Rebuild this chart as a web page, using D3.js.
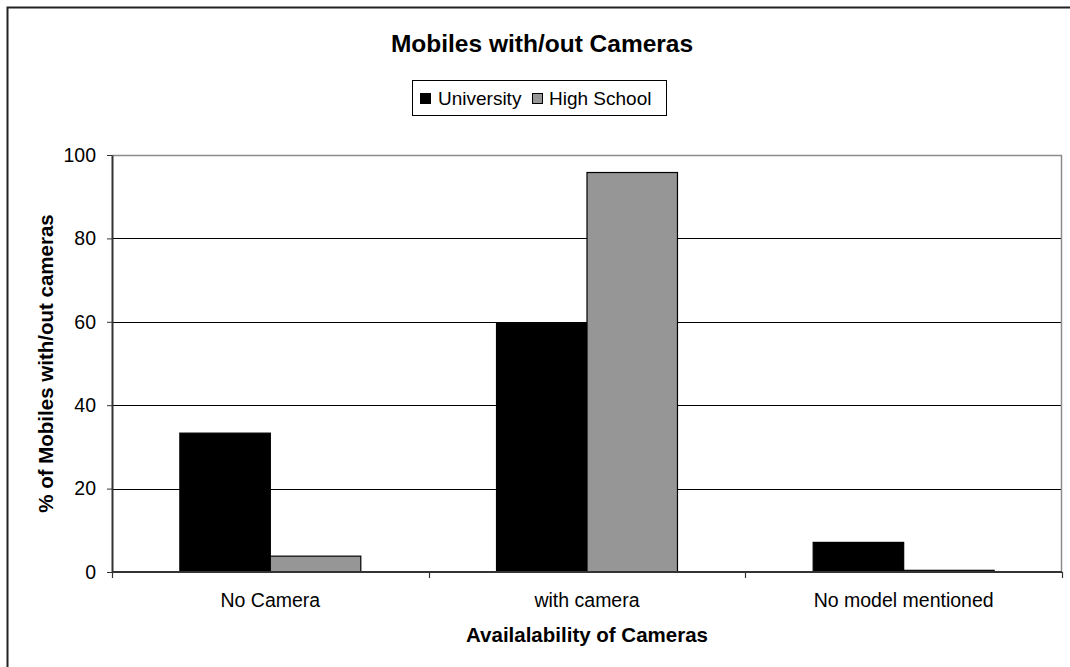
<!DOCTYPE html>
<html>
<head>
<meta charset="utf-8">
<script src="https://cdn.jsdelivr.net/npm/d3@7"></script>
<style>
  html, body { margin: 0; padding: 0; background: #fff; }
  svg { display: block; font-family: "Liberation Sans", Arial, sans-serif; }
</style>
</head>
<body>
<svg id="chart" width="1070" height="667"></svg>
<script>
// Share of phones with and without a camera, by respondent group (%)
const categories = ["No Camera", "with camera", "No model mentioned"];
const seriesNames = ["University", "High School"];
const university = [33.3, 59.7, 7.1];
const highSchool = [3.8, 95.8, 0.4];
const yTicks = [0, 20, 40, 60, 80, 100];
const seriesColors = ["#000000", "#969696"];

const seriesValues = [university, highSchool];
const rows = categories.map((c, i) => ({
  category: c,
  values: seriesNames.map((s, j) => ({ series: s, value: seriesValues[j][i], color: seriesColors[j] }))
}));

const svg = d3.select("#chart");
const plot = { left: 112, right: 1062, top: 155, bottom: 572 };

// Outer chart frame (runs off the right and bottom edges)
svg.append("rect")
  .attr("x", 7.5).attr("y", 7.5)
  .attr("width", 1100).attr("height", 700)
  .attr("fill", "none").attr("stroke", "#222").attr("stroke-width", 2);

const x0 = d3.scaleBand().domain(categories).range([plot.left, plot.right]).paddingInner(0).paddingOuter(0);
const x1 = d3.scaleBand().domain(seriesNames).range([0, x0.bandwidth()]).paddingInner(0).paddingOuter(0.75);
const y = d3.scaleLinear().domain([0, 100]).range([plot.bottom, plot.top]);

// Gridlines
svg.append("g")
  .selectAll("line")
  .data(yTicks.filter(t => t > 0 && t < 100))
  .join("line")
  .attr("x1", plot.left).attr("x2", plot.right)
  .attr("y1", d => Math.round(y(d)) + 0.5).attr("y2", d => Math.round(y(d)) + 0.5)
  .attr("stroke", "#000").attr("stroke-width", 1);

// Plot area border (top and right)
svg.append("path")
  .attr("d", `M${plot.left},${plot.top + 0.5}H${plot.right - 0.5}V${plot.bottom}`)
  .attr("fill", "none").attr("stroke", "#8c8c8c").attr("stroke-width", 1.5);

// Bars
const groups = svg.append("g").selectAll("g")
  .data(rows).join("g")
  .attr("transform", d => `translate(${x0(d.category)},0)`);

groups.selectAll("rect")
  .data(d => d.values).join("rect")
  .attr("x", d => x1(d.series))
  .attr("y", d => y(d.value))
  .attr("width", x1.bandwidth())
  .attr("height", d => y(0) - y(d.value))
  .attr("fill", d => d.color)
  .attr("stroke", "#000").attr("stroke-width", 1.2);

// Y axis
const yAxis = svg.append("g")
  .attr("transform", `translate(${plot.left},0)`)
  .call(d3.axisLeft(y).tickValues(yTicks).tickSize(5).tickPadding(11).tickSizeOuter(0));
yAxis.select(".domain").attr("stroke", "#333").attr("stroke-width", 2);
yAxis.selectAll(".tick line").attr("stroke", "#333");
yAxis.selectAll(".tick text")
  .attr("font-size", 19.5).attr("fill", "#000")
  .attr("font-family", "Liberation Sans, Arial, sans-serif");

// X axis baseline and category boundary ticks
svg.append("line")
  .attr("x1", plot.left).attr("x2", plot.right)
  .attr("y1", plot.bottom).attr("y2", plot.bottom)
  .attr("stroke", "#333").attr("stroke-width", 2);

const boundaries = categories.map(c => x0(c)).concat([x0(categories[categories.length - 1]) + x0.bandwidth()]);
svg.append("g").selectAll("line")
  .data(boundaries).join("line")
  .attr("x1", d => Math.round(d) + 0.5).attr("x2", d => Math.round(d) + 0.5)
  .attr("y1", plot.bottom).attr("y2", plot.bottom + 6)
  .attr("stroke", "#333").attr("stroke-width", 1.2);

// Category labels
svg.append("g").selectAll("text")
  .data(categories).join("text")
  .attr("x", d => x0(d) + x0.bandwidth() / 2)
  .attr("y", 607)
  .attr("text-anchor", "middle")
  .attr("font-size", 19.5)
  .text(d => d);

// Axis titles
svg.append("text")
  .attr("x", (plot.left + plot.right) / 2)
  .attr("y", 642)
  .attr("text-anchor", "middle")
  .attr("font-size", 20.5).attr("font-weight", "bold")
  .text("Availalability of Cameras");

svg.append("text")
  .attr("transform", `translate(53,${(plot.top + plot.bottom) / 2}) rotate(-90)`)
  .attr("text-anchor", "middle")
  .attr("font-size", 20.5).attr("font-weight", "bold")
  .text("% of Mobiles with/out cameras");

// Chart title
svg.append("text")
  .attr("x", 542).attr("y", 52)
  .attr("text-anchor", "middle")
  .attr("font-size", 24.5).attr("font-weight", "bold")
  .text("Mobiles with/out Cameras");

// Legend
const legend = svg.append("g");
legend.append("rect")
  .attr("x", 412.5).attr("y", 80.5).attr("width", 254).attr("height", 35)
  .attr("fill", "#fff").attr("stroke", "#000").attr("stroke-width", 1);

const legendItems = [
  { name: seriesNames[0], color: seriesColors[0], sx: 420, tx: 438 },
  { name: seriesNames[1], color: seriesColors[1], sx: 532, tx: 549 }
];
legendItems.forEach(it => {
  legend.append("rect")
    .attr("x", it.sx + 0.5).attr("y", 93.5).attr("width", 10).attr("height", 10)
    .attr("fill", it.color).attr("stroke", "#000").attr("stroke-width", 1);
  legend.append("text")
    .attr("x", it.tx).attr("y", 105)
    .attr("font-size", 19)
    .text(it.name);
});
</script>
</body>
</html>
